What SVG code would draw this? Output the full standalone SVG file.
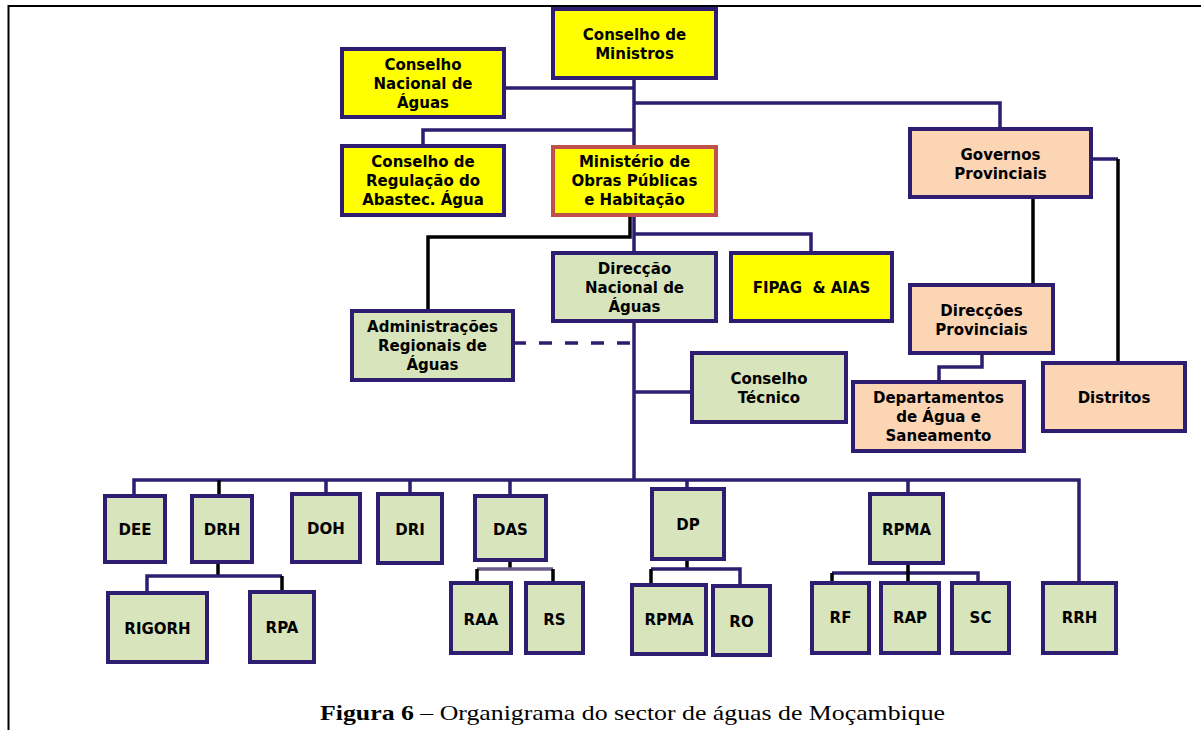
<svg xmlns="http://www.w3.org/2000/svg" width="1201" height="730" viewBox="0 0 1201 730">
<style>
.b{stroke:#2e1d70;stroke-width:4}
.y{fill:#ffff00}
.g{fill:#d8e4bc}
.p{fill:#fcd5b4}
.r{stroke:#c0504d;stroke-width:4}
.t{font-family:"DejaVu Sans",Verdana,sans-serif;font-weight:bold;font-size:15px;fill:#000;text-anchor:middle;white-space:pre}
.n{fill:none;stroke:#2e1d70;stroke-width:3.5}
.k{fill:none;stroke:#000;stroke-width:3.5}
.d{fill:none;stroke:#2e1d70;stroke-width:3.5;stroke-dasharray:13 13}
.v{fill:none;stroke:#6b5b8b;stroke-width:3.5}
.cap{font-family:"Liberation Serif","Times New Roman",serif;font-size:22px;fill:#000}
</style>
<rect width="1201" height="730" fill="#fff"/>
<path d="M8.5 730 V6 H1201" fill="none" stroke="#000" stroke-width="2"/>
<g id="connectors">
<path class="n" d="M634 78 V147"/>
<path class="n" d="M504 88 H634"/>
<path class="n" d="M634 103 H1000 V129"/>
<path class="n" d="M423 146 V130 H634"/>
<path class="n" d="M1091 159 H1118"/>
<path class="k" d="M1118 159 V363"/>
<path class="k" d="M1033 197 V285"/>
<path class="n" d="M982 353 V367 H939 V382"/>
<path class="n" d="M634 215 V480"/>
<path class="n" d="M634 234 H811 V253"/>
<path class="k" d="M630 215 V237 H428 V311"/>
<path class="d" d="M513 343 H634"/>
<path class="n" d="M634 392 H692"/>
<path class="n" d="M134 496 V480 H1079 V583"/>
<path class="n" d="M326 480 V494 M410 480 V494 M510 480 V496 M687 480 V489 M908 480 V494"/>
<path class="k" d="M219 480 V496"/>
<path class="k" d="M218 562 V576"/>
<path class="n" d="M147 593 V576 H282"/>
<path class="k" d="M282 576 V592"/>
<path class="k" d="M510 560 V569"/>
<path class="v" d="M477 569 H553"/>
<path class="k" d="M477 569 V583 M553 569 V583"/>
<path class="k" d="M687 559 V569"/>
<path class="n" d="M651 569 H740 V586"/>
<path class="k" d="M651 569 V585"/>
<path class="n" d="M832 573 H978 V583"/>
<path class="k" d="M908 563 V583 M832 573 V583"/>
</g>
<g id="conselho-ministros"><rect class="b y" x="553" y="9" width="163" height="69"/><text class="t" x="634.5" y="40">Conselho de</text><text class="t" x="634.5" y="59">Ministros</text></g>
<g id="conselho-nacional"><rect class="b y" x="342" y="49" width="162" height="68"/><text class="t" x="423" y="70">Conselho</text><text class="t" x="423" y="89">Nacional de</text><text class="t" x="423" y="108">Águas</text></g>
<g id="conselho-regulacao"><rect class="b y" x="342" y="146" width="162" height="69"/><text class="t" x="423" y="167">Conselho de</text><text class="t" x="423" y="186">Regulação do</text><text class="t" x="423" y="205">Abastec. Água</text></g>
<g id="ministerio"><rect class="r y" x="553" y="147" width="163" height="68"/><text class="t" x="634.5" y="167">Ministério de</text><text class="t" x="634.5" y="186">Obras Públicas</text><text class="t" x="634.5" y="205">e Habitação</text></g>
<g id="governos"><rect class="b p" x="910" y="129" width="181" height="68"/><text class="t" x="1000.5" y="160">Governos</text><text class="t" x="1000.5" y="179">Provinciais</text></g>
<g id="direccoes"><rect class="b p" x="910" y="285" width="143" height="68"/><text class="t" x="981.5" y="316">Direcções</text><text class="t" x="981.5" y="335">Provinciais</text></g>
<g id="departamentos"><rect class="b p" x="853" y="382" width="171" height="69"/><text class="t" x="938.5" y="403">Departamentos</text><text class="t" x="938.5" y="422">de Água e</text><text class="t" x="938.5" y="441">Saneamento</text></g>
<g id="distritos"><rect class="b p" x="1043" y="363" width="142" height="68"/><text class="t" x="1114" y="403">Distritos</text></g>
<g id="fipag"><rect class="b y" x="731" y="253" width="161" height="68"/><text class="t" x="811.5" y="293">FIPAG  &amp; AIAS</text></g>
<g id="dna"><rect class="b g" x="553" y="253" width="163" height="68"/><text class="t" x="634.5" y="274">Direcção</text><text class="t" x="634.5" y="293">Nacional de</text><text class="t" x="634.5" y="312">Águas</text></g>
<g id="ara"><rect class="b g" x="352" y="311" width="161" height="69"/><text class="t" x="432.5" y="332">Administrações</text><text class="t" x="432.5" y="351">Regionais de</text><text class="t" x="432.5" y="370">Águas</text></g>
<g id="conselho-tecnico"><rect class="b g" x="692" y="353" width="154" height="69"/><text class="t" x="769" y="384">Conselho</text><text class="t" x="769" y="403">Técnico</text></g>
<g id="dee"><rect class="b g" x="105" y="496" width="60" height="66"/><text class="t" x="135" y="535">DEE</text></g>
<g id="drh"><rect class="b g" x="192" y="496" width="60" height="66"/><text class="t" x="222" y="535">DRH</text></g>
<g id="doh"><rect class="b g" x="292" y="494" width="68" height="68"/><text class="t" x="326" y="534">DOH</text></g>
<g id="dri"><rect class="b g" x="378" y="494" width="64" height="69"/><text class="t" x="410" y="535">DRI</text></g>
<g id="das"><rect class="b g" x="475" y="496" width="71" height="64"/><text class="t" x="510.5" y="535">DAS</text></g>
<g id="raa"><rect class="b g" x="451" y="583" width="60" height="70"/><text class="t" x="481" y="625">RAA</text></g>
<g id="rs"><rect class="b g" x="526" y="583" width="57" height="70"/><text class="t" x="554.5" y="625">RS</text></g>
<g id="rigorh"><rect class="b g" x="108" y="593" width="99" height="69"/><text class="t" x="157.5" y="634">RIGORH</text></g>
<g id="rpa"><rect class="b g" x="250" y="592" width="64" height="70"/><text class="t" x="282" y="633">RPA</text></g>
<g id="dp"><rect class="b g" x="652" y="489" width="72" height="70"/><text class="t" x="688" y="530">DP</text></g>
<g id="rpma-dp"><rect class="b g" x="632" y="585" width="74" height="69"/><text class="t" x="669" y="625">RPMA</text></g>
<g id="ro"><rect class="b g" x="713" y="586" width="57" height="69"/><text class="t" x="741.5" y="627">RO</text></g>
<g id="rpma"><rect class="b g" x="870" y="494" width="73" height="69"/><text class="t" x="906.5" y="535">RPMA</text></g>
<g id="rf"><rect class="b g" x="812" y="583" width="57" height="70"/><text class="t" x="840.5" y="623">RF</text></g>
<g id="rap"><rect class="b g" x="881" y="583" width="58" height="70"/><text class="t" x="910" y="623">RAP</text></g>
<g id="sc"><rect class="b g" x="952" y="583" width="57" height="70"/><text class="t" x="980.5" y="623">SC</text></g>
<g id="rrh"><rect class="b g" x="1043" y="583" width="73" height="70"/><text class="t" x="1079.5" y="623">RRH</text></g>
<text class="cap" x="320" y="720" textLength="625" lengthAdjust="spacingAndGlyphs"><tspan font-weight="bold">Figura 6</tspan> – Organigrama do sector de águas de Moçambique</text>
</svg>
